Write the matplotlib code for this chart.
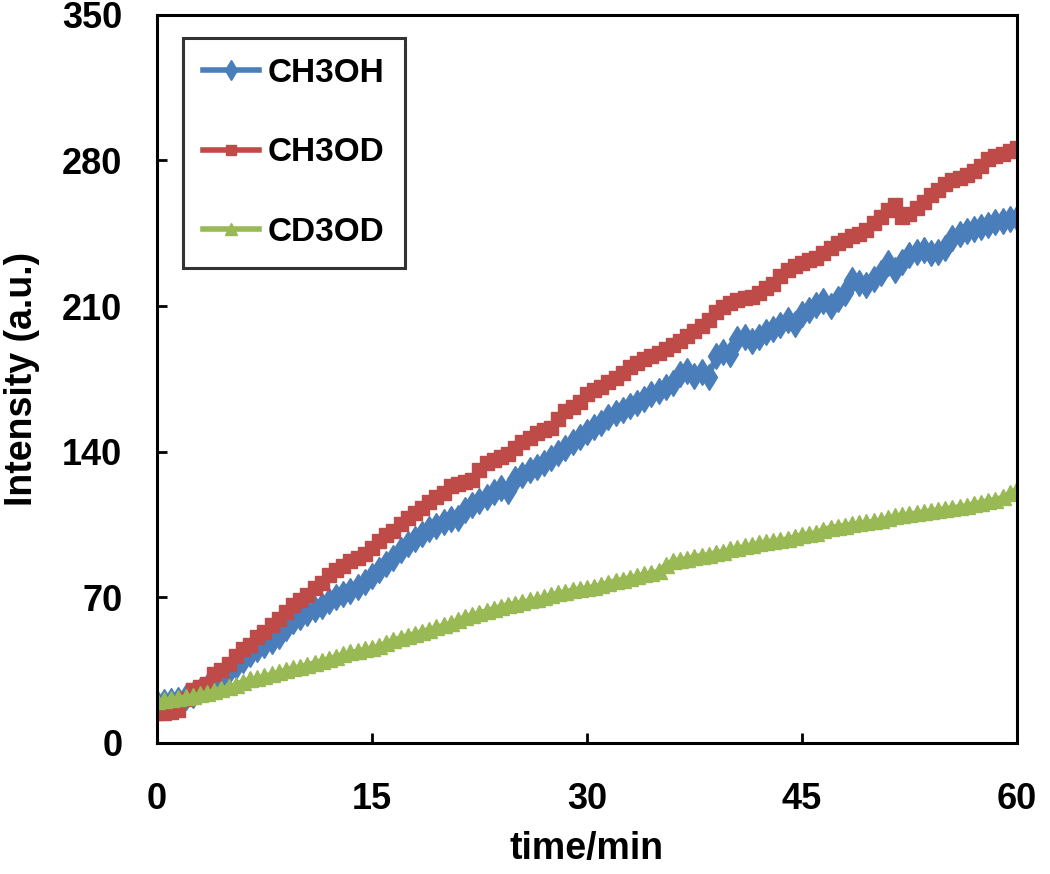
import matplotlib
matplotlib.use("Agg")
import matplotlib.pyplot as plt
import numpy as np

# time axis, one reading every 0.5 min
time_min = np.arange(0, 60.5, 0.5)

ch3oh = [19, 19.5, 20, 20.5, 22, 23, 25, 27, 29, 31.5,
         34.5, 37, 40, 42.5, 45, 47, 49, 51.5, 55, 58.5,
         60.5, 62.5, 64.5, 66, 68, 70, 71.5, 73, 75, 77.5,
         80, 83, 86, 89, 92.5, 95.5, 98, 100.5, 103, 104.5,
         106, 107.5, 108, 112, 114.5, 116.5, 118, 120.5, 122.5, 121,
         127, 129, 131, 132.5, 134.5, 137, 139.5, 142, 144.5, 147,
         149.5, 152, 154, 156.5, 158.5, 160, 162, 163.5, 165.5, 167.5,
         169, 171, 173, 177.5, 179, 176.5, 178.5, 176, 186, 188,
         187, 194, 195, 193, 195, 197.5, 199, 201, 203.5, 201.5,
         206, 208, 210.5, 212.5, 210, 213.5, 216.5, 222.5, 221, 220,
         223, 226, 230.5, 227.5, 231, 234.5, 236, 237, 235.5, 236,
         238, 242.5, 244.5, 246, 247, 248, 249, 250.5, 251, 252,
         252.5]

ch3od = [14.5, 14.5, 15, 16, 21, 25.5, 27, 28.5, 33, 35,
         38, 42, 45, 47, 51, 53.5, 56.5, 59.5, 63, 66.5,
         68.5, 71, 74.5, 77, 80.5, 83, 85, 87.5, 89, 91,
         93.5, 97, 100, 102, 105, 108, 110.5, 113, 116, 118,
         120, 123.5, 124.5, 125.5, 126.5, 131, 134.5, 136, 137.5, 139,
         142, 144.5, 146.5, 149, 150.5, 151.5, 155.5, 159.5, 161.5, 164,
         167.5, 169.5, 171, 173.5, 175.5, 178, 180.5, 182.5, 184.5, 186,
         187.5, 189.5, 191.5, 193, 195.5, 198, 200.5, 203.5, 207, 209.5,
         211.5, 213, 214, 214.5, 216.5, 218.5, 220.5, 224.5, 227.5, 229.5,
         230.5, 232, 233, 235.5, 238, 240.5, 242, 243.5, 244.5, 246.5,
         250, 253, 256, 258.5, 253, 254.5, 257, 260, 263.5, 266,
         268.5, 270.5, 271.5, 273, 275, 277.5, 280.5, 282, 283, 284.5,
         286]

cd3od = [20, 20.5, 21, 21.5, 22, 22.5, 23.5, 24, 25, 26,
         27, 28, 29.5, 30.5, 31, 32, 33, 34, 35, 36,
         36.5, 37.5, 38.5, 39.5, 40.5, 41.5, 42.5, 43.5, 44, 45,
         45.5, 46.5, 48, 49.5, 50.5, 51.5, 52.5, 53.5, 54.5, 55.5,
         56.5, 57.5, 59, 60.5, 61.5, 62.5, 63.5, 64.5, 65.5, 66.5,
         67, 67.5, 68.5, 69, 70, 71, 72, 72.5, 73.5, 74,
         74.5, 75, 76, 77, 78, 78.5, 79.5, 80, 81, 81.5,
         82.5, 85.5, 87.5, 88, 88.5, 89.5, 90, 90.5, 91.5, 92,
         93, 93.5, 94.5, 95, 96, 96.5, 97, 97.5, 98, 99,
         100, 100.5, 101, 102.5, 103.5, 104, 104.5, 105, 105.5, 106,
         106.5, 107, 108, 109, 109.5, 110, 110.5, 111, 111.5, 112,
         112.5, 113, 113.5, 114, 115, 115.5, 116.5, 117, 118, 120,
         122]

x_ticks = [0, 15, 30, 45, 60]
y_ticks = [0, 70, 140, 210, 280, 350]

plt.rcParams['font.family'] = ['Liberation Sans', 'DejaVu Sans']
plt.rcParams['font.weight'] = 'bold'

fig = plt.figure(figsize=(10.5, 8.74), dpi=100)
ax = fig.add_axes([0.1495, 0.150, 0.819, 0.833])

ax.plot(time_min, ch3oh, color='#4A7EBB', lw=4, marker='d', ms=13,
        mec='#4A7EBB', mfc='#4A7EBB', label='CH3OH')
ax.plot(time_min, ch3od, color='#BE4B48', lw=4, marker='s', ms=10,
        mec='#BE4B48', mfc='#BE4B48', label='CH3OD')
ax.plot(time_min, cd3od, color='#98B954', lw=4, marker='^', ms=12,
        mec='#98B954', mfc='#98B954', label='CD3OD')

ax.set_xlim(0, 60)
ax.set_ylim(0, 350)
ax.set_xticks(x_ticks)
ax.set_yticks(y_ticks)
ax.tick_params(direction='in', length=7, width=2, labelsize=26)
ax.tick_params(axis='x', pad=28)
ax.tick_params(axis='y', pad=25)
for lab in ax.get_xticklabels() + ax.get_yticklabels():
    lab.set_fontweight('bold')
for sp in ax.spines.values():
    sp.set_linewidth(2.2)

ax.set_xlabel('time/min', fontsize=27, fontweight='bold', labelpad=10)
ax.set_ylabel('Intensity (a.u.)', fontsize=27, fontweight='bold', labelpad=16)

leg = ax.legend(loc='upper left', bbox_to_anchor=(0.03, 0.968), borderaxespad=0,
                fontsize=24, handlelength=1.7, handletextpad=0.25,
                labelspacing=1.45, borderpad=0.6, fancybox=False,
                edgecolor='black', markerscale=0.75)
leg.get_frame().set_linewidth(2.2)
for t in leg.get_texts():
    t.set_fontweight('bold')

fig.savefig('out.png', dpi=100)
